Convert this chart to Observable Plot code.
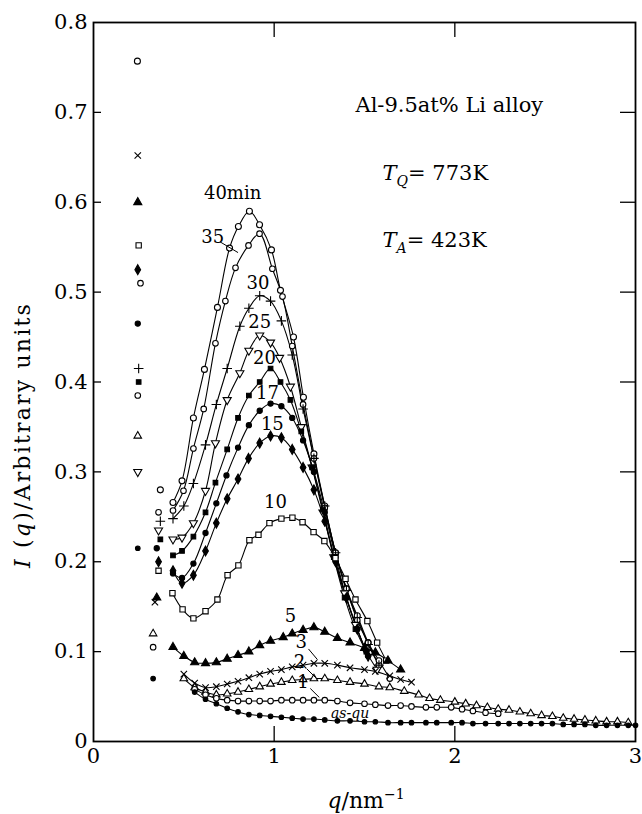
<!DOCTYPE html>
<html><head><meta charset="utf-8">
<script src="https://cdn.jsdelivr.net/npm/d3@7"></script>
<script src="https://cdn.jsdelivr.net/npm/@observablehq/plot@0.6"></script>
<style>
html,body{margin:0;padding:0;background:#fff;}
#chart{width:642px;height:814px;}
</style></head><body><div id="chart"></div>
<script>
// ---- axis ticks ----
const xTicks = [0, 1, 2, 3];
const xTickLabels = ["0", "1", "2", "3"];
const yTicks = [0, 0.1, 0.2, 0.3, 0.4, 0.5, 0.6, 0.7, 0.8];
const yTickLabels = ["0", "0.1", "0.2", "0.3", "0.4", "0.5", "0.6", "0.7", "0.8"];
const xInnerTicks = [1, 2];
const yInnerTicks = [0.1, 0.2, 0.3, 0.4, 0.5, 0.6, 0.7];

// ---- series (aging time) ----
const seriesNames = ["40", "35", "30", "25", "20", "17", "15", "10", "5", "3", "2", "1", "as-qu"];

const q40 = [0.243, 0.37, 0.44, 0.49, 0.553, 0.614, 0.686, 0.753, 0.802, 0.863, 0.919, 0.985, 1.035, 1.107, 1.162, 1.22, 1.28, 1.34, 1.40, 1.46, 1.52, 1.58];
const i40 = [0.757, 0.28, 0.266, 0.29, 0.36, 0.414, 0.483, 0.549, 0.573, 0.590, 0.575, 0.547, 0.502, 0.45, 0.383, 0.32, 0.262, 0.21, 0.17, 0.14, 0.11, 0.085];
const q35 = [0.26, 0.36, 0.44, 0.498, 0.553, 0.61, 0.675, 0.73, 0.786, 0.858, 0.919, 0.99, 1.046, 1.10, 1.16, 1.22, 1.28, 1.34, 1.40, 1.46, 1.52, 1.58, 1.64];
const i35 = [0.51, 0.255, 0.257, 0.279, 0.326, 0.37, 0.443, 0.49, 0.527, 0.552, 0.565, 0.526, 0.495, 0.44, 0.375, 0.315, 0.26, 0.21, 0.17, 0.135, 0.11, 0.09, 0.07];
const q30 = [0.25, 0.37, 0.44, 0.50, 0.553, 0.62, 0.68, 0.74, 0.81, 0.86, 0.92, 0.98, 1.04, 1.10, 1.16, 1.22, 1.28, 1.34, 1.40, 1.46, 1.52, 1.58];
const i30 = [0.415, 0.245, 0.248, 0.262, 0.287, 0.33, 0.375, 0.415, 0.462, 0.482, 0.496, 0.49, 0.468, 0.43, 0.37, 0.315, 0.262, 0.21, 0.168, 0.138, 0.108, 0.085];
const q25 = [0.245, 0.36, 0.44, 0.49, 0.553, 0.62, 0.675, 0.74, 0.81, 0.86, 0.92, 0.98, 1.03, 1.09, 1.15, 1.21, 1.27, 1.33, 1.39, 1.45, 1.51, 1.57];
const i25 = [0.30, 0.235, 0.225, 0.227, 0.243, 0.279, 0.332, 0.38, 0.41, 0.435, 0.452, 0.444, 0.427, 0.395, 0.35, 0.305, 0.255, 0.205, 0.165, 0.13, 0.10, 0.08];
const q20 = [0.25, 0.37, 0.44, 0.49, 0.553, 0.62, 0.675, 0.74, 0.80, 0.86, 0.92, 0.98, 1.035, 1.09, 1.15, 1.21, 1.27, 1.33, 1.39, 1.45, 1.51];
const i20 = [0.40, 0.225, 0.207, 0.212, 0.228, 0.255, 0.288, 0.325, 0.36, 0.385, 0.40, 0.415, 0.40, 0.38, 0.345, 0.305, 0.258, 0.205, 0.16, 0.125, 0.10];
const q17 = [0.245, 0.35, 0.44, 0.49, 0.553, 0.62, 0.68, 0.736, 0.80, 0.86, 0.92, 0.98, 1.04, 1.10, 1.16, 1.22, 1.28, 1.34, 1.40, 1.46, 1.52];
const i17 = [0.465, 0.215, 0.187, 0.182, 0.198, 0.232, 0.265, 0.296, 0.327, 0.352, 0.368, 0.376, 0.373, 0.36, 0.335, 0.30, 0.255, 0.205, 0.16, 0.125, 0.095];
const q15 = [0.245, 0.36, 0.44, 0.49, 0.553, 0.62, 0.68, 0.74, 0.80, 0.858, 0.92, 0.98, 1.04, 1.10, 1.16, 1.22, 1.28, 1.34, 1.40, 1.46, 1.52];
const i15 = [0.525, 0.20, 0.19, 0.176, 0.185, 0.212, 0.243, 0.27, 0.292, 0.315, 0.332, 0.34, 0.338, 0.325, 0.305, 0.28, 0.245, 0.20, 0.16, 0.125, 0.095];
const q10 = [0.25, 0.36, 0.437, 0.493, 0.553, 0.62, 0.686, 0.742, 0.802, 0.863, 0.913, 0.974, 1.04, 1.101, 1.157, 1.218, 1.278, 1.339, 1.395, 1.45, 1.516, 1.57, 1.62];
const i10 = [0.552, 0.19, 0.165, 0.147, 0.137, 0.145, 0.158, 0.185, 0.196, 0.224, 0.23, 0.243, 0.248, 0.249, 0.244, 0.233, 0.223, 0.204, 0.181, 0.158, 0.134, 0.11, 0.09];
const q5 = [0.245, 0.35, 0.44, 0.50, 0.56, 0.62, 0.68, 0.74, 0.80, 0.86, 0.92, 0.98, 1.05, 1.10, 1.16, 1.22, 1.28, 1.35, 1.42, 1.50, 1.56, 1.63, 1.70];
const i5 = [0.60, 0.16, 0.105, 0.095, 0.088, 0.087, 0.088, 0.092, 0.096, 0.10, 0.107, 0.112, 0.116, 0.12, 0.124, 0.127, 0.122, 0.115, 0.11, 0.104, 0.099, 0.09, 0.08];
const q3 = [0.245, 0.34, 0.50, 0.56, 0.62, 0.68, 0.74, 0.80, 0.86, 0.92, 0.98, 1.04, 1.10, 1.16, 1.22, 1.28, 1.35, 1.42, 1.50, 1.56, 1.64, 1.70, 1.76];
const i3 = [0.652, 0.155, 0.075, 0.065, 0.06, 0.061, 0.064, 0.067, 0.071, 0.075, 0.078, 0.08, 0.083, 0.085, 0.087, 0.087, 0.085, 0.082, 0.08, 0.078, 0.073, 0.069, 0.066];
const q2 = [0.245, 0.33, 0.50, 0.56, 0.62, 0.68, 0.74, 0.80, 0.86, 0.92, 0.98, 1.04, 1.10, 1.16, 1.22, 1.28, 1.35, 1.42, 1.50, 1.58, 1.64, 1.72, 1.80, 1.86, 1.92, 2.00, 2.06, 2.12, 2.18, 2.24, 2.30, 2.36, 2.42, 2.48, 2.54, 2.60, 2.66, 2.72, 2.78, 2.84, 2.90, 2.96];
const i2 = [0.34, 0.12, 0.07, 0.06, 0.055, 0.052, 0.053, 0.055, 0.058, 0.061, 0.064, 0.066, 0.068, 0.069, 0.07, 0.07, 0.068, 0.066, 0.064, 0.061, 0.06, 0.056, 0.052, 0.048, 0.046, 0.044, 0.042, 0.04, 0.038, 0.036, 0.035, 0.033, 0.031, 0.029, 0.028, 0.026, 0.025, 0.024, 0.023, 0.022, 0.022, 0.021];
const q1 = [0.245, 0.33, 0.56, 0.62, 0.68, 0.74, 0.80, 0.86, 0.92, 0.98, 1.04, 1.10, 1.16, 1.22, 1.28, 1.35, 1.42, 1.50, 1.56, 1.63, 1.70, 1.76, 1.84, 1.90, 1.98, 2.04, 2.10, 2.17, 2.24];
const i1 = [0.385, 0.105, 0.058, 0.052, 0.048, 0.046, 0.045, 0.045, 0.045, 0.045, 0.046, 0.046, 0.046, 0.046, 0.046, 0.045, 0.043, 0.042, 0.041, 0.040, 0.040, 0.039, 0.038, 0.038, 0.038, 0.036, 0.034, 0.032, 0.031];
const qAsQu = [0.245, 0.33, 0.56, 0.62, 0.68, 0.74, 0.80, 0.86, 0.92, 0.98, 1.04, 1.10, 1.16, 1.22, 1.28, 1.35, 1.42, 1.50, 1.56, 1.63, 1.70, 1.76, 1.84, 1.90, 1.98, 2.04, 2.10, 2.17, 2.24, 2.30, 2.36, 2.42, 2.48, 2.54, 2.60, 2.66, 2.72, 2.78, 2.84, 2.90, 2.96, 3.0];
const iAsQu = [0.215, 0.07, 0.055, 0.047, 0.042, 0.037, 0.033, 0.03, 0.029, 0.028, 0.027, 0.026, 0.025, 0.025, 0.024, 0.023, 0.023, 0.022, 0.022, 0.021, 0.021, 0.021, 0.021, 0.021, 0.021, 0.021, 0.02, 0.02, 0.02, 0.02, 0.02, 0.02, 0.02, 0.02, 0.019, 0.019, 0.019, 0.018, 0.018, 0.018, 0.018, 0.018];

const seriesQ = [q40, q35, q30, q25, q20, q17, q15, q10, q5, q3, q2, q1, qAsQu];
const seriesI = [i40, i35, i30, i25, i20, i17, i15, i10, i5, i3, i2, i1, iAsQu];

// ---- annotations ----
const annoText = ["Al-9.5at% Li alloy", "T_Q= 773K", "T_A= 423K"];
const annoQ = [1.45, 1.60, 1.60];
const annoI = [0.708, 0.632, 0.558];

const curveLabelText = ["40min", "35", "30", "25", "20", "17", "15", "10", "5", "3", "2", "1"];
const curveLabelQ = [0.77, 0.66, 0.91, 0.92, 0.946, 0.963, 0.99, 1.007, 1.09, 1.15, 1.14, 1.16];
const curveLabelI = [0.61, 0.561, 0.51, 0.466, 0.426, 0.388, 0.353, 0.266, 0.139, 0.111, 0.088, 0.066];
const asQuText = ["as-qu"];
const asQuQ = [1.42];
const asQuI = [0.031];

const leaderQ1 = [0.70, 1.19, 1.18, 1.20];
const leaderI1 = [0.556, 0.103, 0.081, 0.059];
const leaderQ2 = [0.80, 1.24, 1.23, 1.25];
const leaderI2 = [0.544, 0.091, 0.071, 0.049];

// ---- styles (not data) ----
const seriesSymbol = ["circle", "circle", "plus", "triangle", "square", "circle", "diamond", "square", "triangle", "times", "triangle", "circle", "circle"];
const seriesOpen = [true, true, false, true, false, false, false, true, false, false, true, true, false];
const seriesRotate = [0, 0, 0, 180, 0, 0, 0, 0, 0, 0, 0, 0, 0];
const seriesR = [3, 2.8, 3.2, 3, 2.6, 2.6, 3, 3, 3, 3, 2.8, 2.8, 2.3];

const W = 642, H = 814, mL = 93, mR = 7, mT = 22, mB = 73;
const innerW = W - mL - mR, innerH = H - mT - mB;

const rows = [];
seriesNames.forEach((s, k) => {
  seriesQ[k].forEach((q, j) => rows.push({series: s, k, q, I: seriesI[k][j]}));
});

const dotMarks = seriesNames.map((s, k) => {
  const sym = seriesSymbol[k];
  const strokeOnly = sym === "plus" || sym === "times";
  return Plot.dot(rows.filter(d => d.k === k), {
    x: "q", y: "I", symbol: sym, r: seriesR[k], rotate: seriesRotate[k],
    fill: strokeOnly ? "none" : (seriesOpen[k] ? "white" : "black"),
    stroke: "black", strokeWidth: 1.1
  });
});

const annoRows = annoText.map((t, i) => ({t, q: annoQ[i], I: annoI[i]}));
const labelRows = curveLabelText.map((t, i) => ({t, q: curveLabelQ[i], I: curveLabelI[i]}));
const asQuRows = asQuText.map((t, i) => ({t, q: asQuQ[i], I: asQuI[i]}));
const leaderRows = leaderQ1.map((q, i) => ({q1: q, i1: leaderI1[i], q2: leaderQ2[i], i2: leaderI2[i]}));

const chart = Plot.plot({
  width: W, height: H,
  marginLeft: mL, marginRight: mR, marginTop: mT, marginBottom: mB,
  x: {domain: [0, 3]},
  y: {domain: [0, 0.8]},
  style: {fontFamily: "'DejaVu Serif', serif", fontSize: "21px", background: "white", color: "black", overflow: "visible"},
  marks: [
    Plot.line(rows.filter(d => d.q >= 0.4), {x: "q", y: "I", z: "series", curve: "catmull-rom", stroke: "black", strokeWidth: 1.1}),
    ...dotMarks,
    Plot.frame({stroke: "black", strokeWidth: 1.8}),
    Plot.ruleX(xInnerTicks, {insetTop: innerH - 15, stroke: "black", strokeWidth: 1.3}),
    Plot.ruleX(xInnerTicks, {insetBottom: innerH - 15, stroke: "black", strokeWidth: 1.3}),
    Plot.ruleY(yInnerTicks, {insetRight: innerW - 8, stroke: "black", strokeWidth: 1.3}),
    Plot.ruleY(yInnerTicks, {insetLeft: innerW - 15, stroke: "black", strokeWidth: 1.3}),
    Plot.axisX(xTicks, {tickSize: 0, tickPadding: 7, label: null, tickFormat: d => xTickLabels[xTicks.indexOf(d)], fontSize: 21}),
    Plot.axisY(yTicks, {tickSize: 0, tickPadding: 6, label: null, tickFormat: d => yTickLabels[yTicks.indexOf(d)], fontSize: 21}),
    Plot.text(annoRows, {x: "q", y: "I", text: "t", textAnchor: "start", fontSize: 21}),
    Plot.text(labelRows, {x: "q", y: "I", text: "t", textAnchor: "middle", fontSize: 18}),
    Plot.text(asQuRows, {x: "q", y: "I", text: "t", textAnchor: "middle", fontSize: 14, fontStyle: "italic"}),
    Plot.link(leaderRows, {x1: "q1", y1: "i1", x2: "q2", y2: "i2", stroke: "black", strokeWidth: 1})
  ]
});

document.getElementById("chart").appendChild(chart);
const svg = d3.select(chart);

// subscripts for T_Q and T_A
svg.selectAll("text").each(function() {
  const s = this.textContent;
  const m = s.match(/^T_(\w)(.*)$/);
  if (m && this.childElementCount === 0) {
    const sel = d3.select(this);
    sel.text(null);
    sel.append("tspan").attr("font-style", "italic").text("T");
    sel.append("tspan").attr("font-style", "italic").attr("font-size", "14px").attr("dy", "6").text(m[1]);
    sel.append("tspan").attr("dy", "-6").text(m[2]);
  }
});

// axis titles
const yl = svg.append("text")
  .attr("transform", "translate(24,435) rotate(-90)")
  .attr("text-anchor", "middle")
  .attr("dominant-baseline", "middle")
  .attr("font-family", "'DejaVu Serif', serif")
  .attr("font-size", 22)
  .attr("letter-spacing", 2.2)
  .attr("fill", "black");
yl.append("tspan").attr("font-style", "italic").text("I");
yl.append("tspan").text(" (");
yl.append("tspan").attr("font-style", "italic").text("q");
yl.append("tspan").text(")/Arbitrary units");

const xl = svg.append("text")
  .attr("x", 366).attr("y", 808)
  .attr("text-anchor", "middle")
  .attr("font-family", "'DejaVu Serif', serif")
  .attr("font-size", 22)
  .attr("fill", "black");
xl.append("tspan").attr("font-style", "italic").text("q");
xl.append("tspan").text("/nm");
xl.append("tspan").attr("font-size", 14).attr("dy", -9).text("−1");
</script>
</body></html>
